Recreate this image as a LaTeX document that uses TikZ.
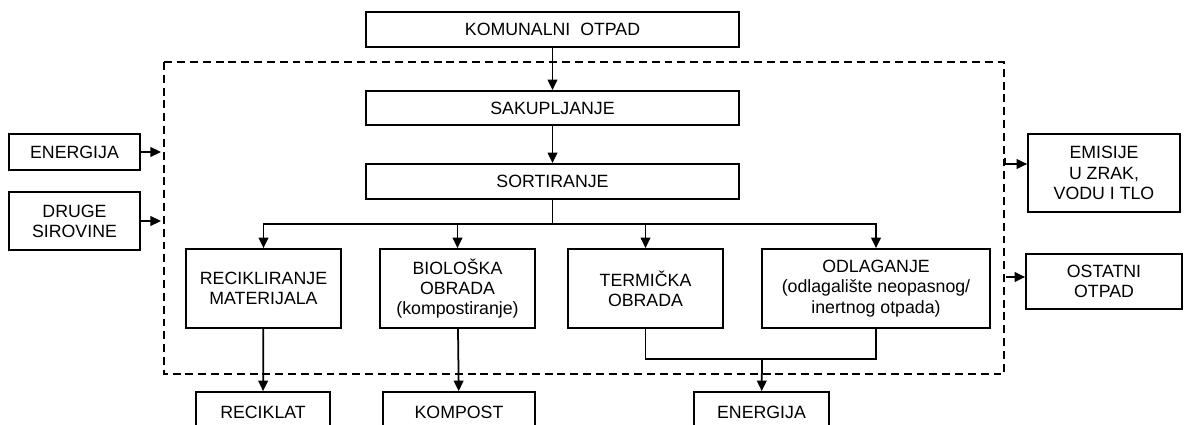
\documentclass[tikz,border=0pt]{standalone}
\usepackage{fontspec}
\setmainfont{Liberation Sans}
\usetikzlibrary{positioning, arrows.meta}

\begin{document}
\begin{tikzpicture}[x=0.02cm, y=-0.02cm,
	box/.style={draw, line width=1pt, align=center, inner sep=0pt,
		font=\fontsize{10.1}{11.5}\selectfont},
	arr/.style={line width=1pt, -{Triangle[length=6pt, width=5.5pt]}},
	line/.style={line width=1pt},
	border/.style={line width=0.9pt, dash pattern=on 4.5pt off 2.8pt}]
	\useasboundingbox (0, 0) rectangle (1185, 425);

	% Boundary:
	\draw[border] (164, 62) rectangle (1004, 374);

	% Instances/Symbols:
	\node[box, minimum width=7.46cm, minimum height=0.7cm] (komunalni) at (552.5, 29.5) {KOMUNALNI\ \ OTPAD};
	\node[box, minimum width=7.46cm, minimum height=0.68cm] (sakupljanje) at (552.5, 108) {SAKUPLJANJE};
	\node[box, minimum width=7.46cm, minimum height=0.7cm] (sortiranje) at (552.5, 181.5) {SORTIRANJE};

	\node[box, minimum width=3.1cm, minimum height=1.58cm] (recikliranje) at (263.5, 288.5) {RECIKLIRANJE\\MATERIJALA};
	\node[box, minimum width=3.1cm, minimum height=1.58cm] (bioloska) at (457.5, 288.5) {BIOLOŠKA\\OBRADA\\(kompostiranje)};
	\node[box, minimum width=3.1cm, minimum height=1.58cm] (termicka) at (645.5, 288.5) {TERMIČKA\\OBRADA};
	\node[box, minimum width=4.56cm, minimum height=1.58cm] (odlaganje) at (876, 288.5) {ODLAGANJE\\(odlagalište neopasnog/\\inertnog otpada)};

	\node[box, minimum width=2.68cm, minimum height=0.8cm] (reciklat) at (263, 412) {RECIKLAT};
	\node[box, minimum width=3.03cm, minimum height=0.8cm] (kompost) at (459, 412) {KOMPOST};
	\node[box, minimum width=2.7cm, minimum height=0.8cm] (energijaout) at (761.5, 412) {ENERGIJA};

	\node[box, minimum width=2.62cm, minimum height=0.72cm] (energijain) at (74.5, 152) {ENERGIJA};
	\node[box, minimum width=2.62cm, minimum height=1.16cm] (sirovine) at (74.5, 221) {DRUGE\\SIROVINE};

	\node[box, minimum width=3.04cm, minimum height=1.56cm] (emisije) at (1104, 173) {EMISIJE\\U ZRAK,\\VODU I TLO};
	\node[box, minimum width=3.12cm, minimum height=1.1cm] (ostatni) at (1104, 281.5) {OSTATNI\\OTPAD};

	% Nodes:
	\coordinate (split) at (552.5, 224);
	\coordinate (join) at (762, 359);
	\coordinate (in1) at (161, 152);
	\coordinate (in2) at (161, 221);
	\coordinate (out1) at (1005, 158);
	\coordinate (out2) at (1006, 277);

	% Lines:
	\draw[arr] (komunalni) -- (sakupljanje);
	\draw[arr] (sakupljanje) -- (sortiranje);
	\draw[line] (sortiranje) -- (split);
	\draw[arr] (split) -| (recikliranje);
	\draw[arr] (split) -| (bioloska);
	\draw[arr] (split) -| (termicka);
	\draw[arr] (split) -| (odlaganje);

	\draw[arr] (recikliranje) -- (reciklat);
	\draw[arr] (bioloska) -- (kompost);
	\draw[line] (termicka) |- (join) -| (odlaganje);
	\draw[arr] (join) -- (energijaout);

	\draw[arr] (energijain) -- (in1);
	\draw[arr] (sirovine) -- (in2);
	\draw[arr] (out1) |- ([yshift=0.18cm]emisije.west);
	\draw[arr] (out2) -- (out2 -| ostatni.west);

\end{tikzpicture}
\end{document}
